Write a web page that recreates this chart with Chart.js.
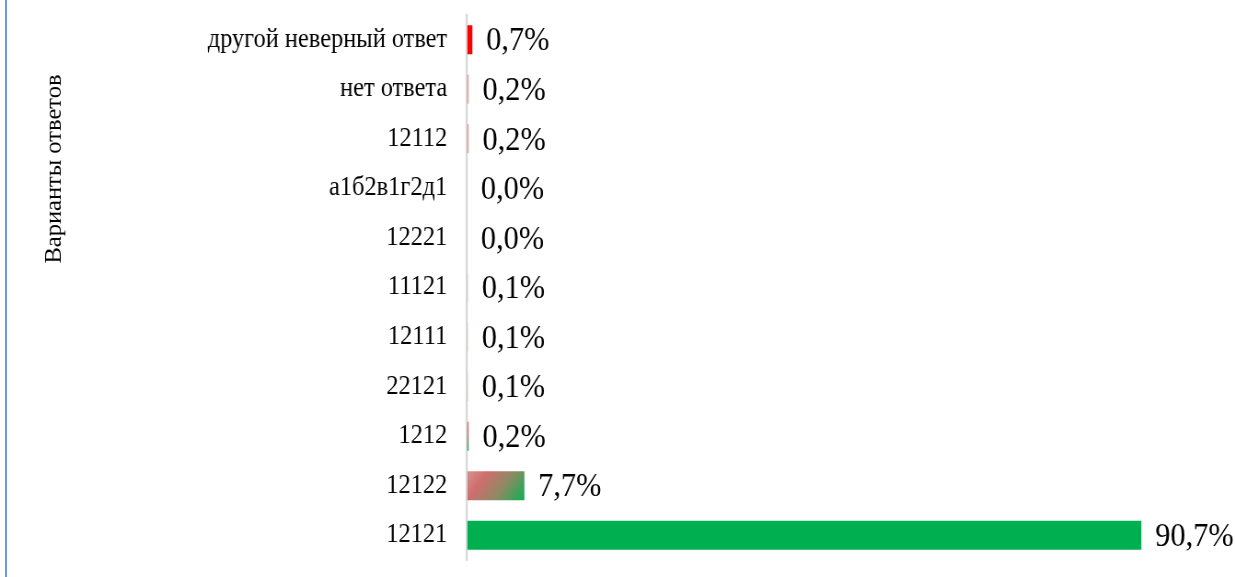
<!DOCTYPE html>
<html>
<head>
<meta charset="utf-8">
<script src="https://cdn.jsdelivr.net/npm/chart.js@4/dist/chart.umd.min.js"></script>
<style>
  html, body { margin: 0; padding: 0; background: #fff; }
  #frame { position: absolute; left: 0; top: 0; width: 1235px; height: 577px; overflow: hidden; background: #fff; }
  #blue { position: absolute; left: 5px; top: 0; width: 2px; height: 577px; background: #6A98DA; z-index: 2; }
  #wrap { position: absolute; left: 0; top: 0; width: 1342px; height: 577px; transform: scaleX(0.9203); transform-origin: 0 0; }
</style>
</head>
<body>
<div id="frame">
  <div id="blue"></div>
  <div id="wrap"><canvas id="c" width="1342" height="577"></canvas></div>
</div>
<script>
// ---- data ----
const categories = ["другой неверный ответ", "нет ответа", "12112", "а1б2в1г2д1", "12221", "11121", "12111", "22121", "1212", "12122", "12121"];
const percentValues = [0.7, 0.2, 0.2, 0.0, 0.0, 0.1, 0.1, 0.1, 0.2, 7.7, 90.7];
const axisTitle = "Варианты ответов";
const xAxisMax = 100;

// ---- styles ----
const fillKinds = ["red", "pink", "pink", "fade", "fade", "fade", "fade", "fade", "vgrad", "diag", "green"];
const SERIF = "'Liberation Serif', 'Times New Roman', serif";

function barFill(ctx) {
  const chart = ctx.chart;
  const kind = fillKinds[ctx.dataIndex];
  if (kind === "red") return "#FF0000";
  if (kind === "green") return "#00B050";
  if (kind === "pink") return "#E79A9A";
  if (!chart.chartArea) return "#E79A9A";
  const xs = chart.scales.x, ys = chart.scales.y;
  const i = ctx.dataIndex;
  const x0 = xs.getPixelForValue(0), x1 = xs.getPixelForValue(percentValues[i]);
  const yc = ys.getPixelForValue(i);
  const half = 15;
  const g2 = chart.ctx;
  if (kind === "diag") {
    const g = g2.createLinearGradient(x0, yc - half * 1.6, x1, yc + half * 1.6);
    g.addColorStop(0, "#DE9B9B");
    g.addColorStop(0.3, "#CF6E6E");
    g.addColorStop(0.6, "#8C8B63");
    g.addColorStop(0.85, "#2AA857");
    g.addColorStop(1, "#00B050");
    return g;
  }
  const g = g2.createLinearGradient(0, yc - half, 0, yc + half);
  if (kind === "vgrad") {
    g.addColorStop(0, "#E07070");
    g.addColorStop(0.5, "#B0705A");
    g.addColorStop(1, "#00B050");
  } else {
    g.addColorStop(0, "#F0C0C0");
    g.addColorStop(1, "#9ED8B0");
  }
  return g;
}

const valueLabels = {
  id: "valueLabels",
  afterDatasetsDraw(chart) {
    const ctx = chart.ctx;
    const meta = chart.getDatasetMeta(0);
    ctx.save();
    ctx.font = "33px " + SERIF;
    ctx.fillStyle = "#000";
    ctx.textAlign = "left";
    ctx.textBaseline = "middle";
    meta.data.forEach((el, i) => {
      const txt = percentValues[i].toFixed(1).replace(".", ",") + "%";
      ctx.fillText(txt, el.x + 15, el.y + 2);
    });
    ctx.restore();
  }
};

const sideTitle = {
  id: "sideTitle",
  afterDraw(chart) {
    const ctx = chart.ctx;
    ctx.save();
    ctx.translate(60, 169);
    ctx.rotate(-Math.PI / 2);
    ctx.font = "24.5px " + SERIF;
    ctx.fillStyle = "#000";
    ctx.textAlign = "center";
    ctx.textBaseline = "middle";
    ctx.fillText(axisTitle, 0, 0);
    ctx.restore();
  }
};

new Chart(document.getElementById("c"), {
  type: "bar",
  data: {
    labels: categories,
    datasets: [{
      data: percentValues,
      backgroundColor: barFill,
      borderWidth: 0,
      barPercentage: 0.585,
      categoryPercentage: 1.0
    }]
  },
  options: {
    indexAxis: "y",
    responsive: false,
    devicePixelRatio: 1,
    animation: false,
    layout: { padding: { left: 0, right: 26.7, top: 15, bottom: 17 } },
    plugins: { legend: { display: false }, tooltip: { enabled: false }, title: { display: false } },
    scales: {
      x: {
        display: false,
        min: 0,
        max: xAxisMax
      },
      y: {
        afterFit(scale) { scale.width = 507.6; scale.paddingTop = 0; scale.paddingBottom = 0; },
        grid: { display: false, drawTicks: false },
        border: { display: true, color: "#D9D9D9", width: 2.3 },
        ticks: {
          padding: 21.7,
          color: "#000",
          font: { family: SERIF, size: 26.5 }
        }
      }
    }
  },
  plugins: [valueLabels, sideTitle]
});
</script>
</body>
</html>
